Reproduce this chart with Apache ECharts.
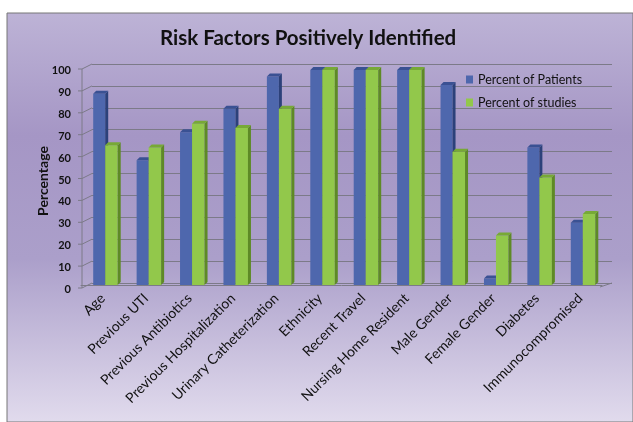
<!DOCTYPE html>
<html><head><meta charset="utf-8">
<script src="https://cdn.jsdelivr.net/npm/echarts@6/dist/echarts.min.js"></script>
<style>html,body{margin:0;padding:0;background:#fff;}#c{width:633px;height:422px;}</style>
</head><body><div id="c"></div>
<script>
const categories = ["Age","Previous UTI","Previous Antibiotics","Previous Hospitalization","Urinary Catheterization","Ethnicity","Recent Travel","Nursing Home Resident","Male Gender","Female Gender","Diabetes","Immunocompromised"];
const patients = [89,58,71,82,97,100,100,100,93,3,64,29];
const studies  = [65,64,75,73,82,100,100,100,62,23,50,33];
const yTicks = [0,10,20,30,40,50,60,70,80,90,100];
const seriesNames = ["Percent of Patients","Percent of studies"];
const yName = "Percentage";

const blue = ['#4e67ad','#2c417a','#3a5193'];
const green = ['#92c84b','#5e8a26','#77a936'];

function bar3D(dx, w, cols){
  return function(params, api){
    const i = api.value(0), v = api.value(1);
    const base = api.coord([i, 0]);
    const top = api.coord([i, v]);
    const x0 = base[0] + dx, yb = base[1], yt = top[1], d = 3;
    return {type:'group', children:[
      {type:'rect', shape:{x:x0, y:yt, width:w, height:yb-yt}, style:{fill:cols[0]}},
      {type:'polygon', shape:{points:[[x0+w,yt],[x0+w+d,yt-d],[x0+w+d,yb-d],[x0+w,yb]]}, style:{fill:cols[1]}},
      {type:'polygon', shape:{points:[[x0,yt],[x0+d,yt-d],[x0+w+d,yt-d],[x0+w,yt]]}, style:{fill:cols[2]}}
    ]};
  };
}

function wall(params, api){
  const v = api.value(0);
  const back = api.coord([0, v]);
  const fx = back[0]-10, fy = back[1]+5;
  const ls = {stroke:'#7c7a88', lineWidth:1};
  const ch = [
    {type:'line', shape:{x1:fx, y1:fy, x2:back[0], y2:back[1]}, style:ls},
    {type:'line', shape:{x1:fx-4, y1:fy, x2:fx, y2:fy}, style:ls}
  ];
  if (params.dataIndex === 0) {
    const topB = api.coord([0, yTicks[yTicks.length-1]]);
    const right = api.coord([1, 0]);
    ch.push({type:'line', shape:{x1:fx, y1:fy, x2:topB[0]-10, y2:topB[1]+5}, style:ls});
    ch.push({type:'line', shape:{x1:right[0], y1:right[1], x2:right[0]-12, y2:right[1]+4}, style:ls});
  }
  return {type:'group', children:ch};
}

const chart = echarts.init(document.getElementById('c'));
chart.setOption({
  animation:false,
  graphic:[
    {type:'rect', z:-10, shape:{x:7,y:13,width:626,height:409},
      style:{stroke:'#777', lineWidth:1, fill:{type:'linear',x:0,y:0,x2:0,y2:1,colorStops:[
        {offset:0,color:'#bdb3d6'},{offset:0.3,color:'#a596c5'},{offset:0.6,color:'#ab9fca'},{offset:1,color:'#e1dbed'}]}}},
    {type:'text', x:43, y:181, rotation:Math.PI/2,
      style:{text:yName, align:'center', verticalAlign:'middle', fill:'#111',
        font:'bold 14px Lato'}}
  ],
  title:{text:'Risk Factors Positively Identified', left:155, top:23,
    textStyle:{fontFamily:'Lato', fontWeight:'bold', fontSize:20.5, color:'#111'}},
  legend:{orient:'vertical', left:461, top:68, itemWidth:7, itemHeight:8, itemGap:10, icon:'rect',
    textStyle:{fontFamily:'Lato', fontSize:12.5, color:'#111'},
    data:[{name:seriesNames[0], itemStyle:{color:blue[0]}},{name:seriesNames[1], itemStyle:{color:green[0]}}]},
  grid:[{left:92, right:21, top:64, bottom:139},{left:81, right:31, top:70, bottom:137}],
  xAxis:[
    {gridIndex:0, type:'value', min:0, max:1, show:false},
    {gridIndex:1, type:'category', data:categories, offset:3,
      axisLine:{lineStyle:{color:'#7c7a88'}}, axisTick:{length:4, lineStyle:{color:'#7c7a88'}},
      axisLabel:{rotate:45, margin:8, interval:0, fontFamily:'Lato', fontSize:14, color:'#111'}}
  ],
  yAxis:[
    {gridIndex:0, type:'value', min:0, max:100, interval:10,
      axisLine:{show:false}, axisTick:{show:false},
      axisLabel:{margin:21, verticalAlign:'top', lineHeight:13, fontFamily:'Lato', fontWeight:'bold', fontSize:11, color:'#111'},
      splitLine:{lineStyle:{color:'#7c7a88', width:1}}},
    {gridIndex:1, type:'value', min:0, max:100, show:false}
  ],
  series:[
    {type:'custom', xAxisIndex:0, yAxisIndex:0, silent:true, data:yTicks.map(v=>[v]), renderItem:wall, encode:{y:0}},
    {name:seriesNames[0], type:'custom', xAxisIndex:1, yAxisIndex:1, itemStyle:{color:blue[0]},
      data:patients.map((v,i)=>[i,v]), renderItem:bar3D(-9.5, 12, blue)},
    {name:seriesNames[1], type:'custom', xAxisIndex:1, yAxisIndex:1, itemStyle:{color:green[0]},
      data:studies.map((v,i)=>[i,v]), renderItem:bar3D(2.5, 12.5, green)}
  ]
});
</script></body></html>
